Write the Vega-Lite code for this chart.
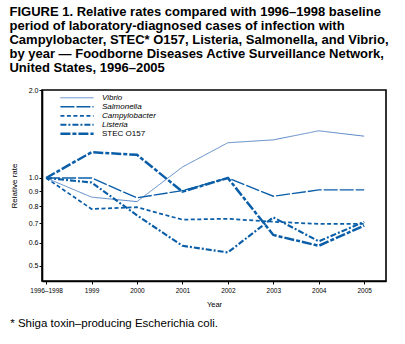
{
  "$schema": "https://vega.github.io/schema/vega-lite/v6.json",
  "padding": {"left": 9, "top": 6, "right": 4, "bottom": 4},
  "background": "white",
  "title": {
    "text": ["FIGURE 1. Relative rates compared with 1996–1998 baseline", "period of laboratory-diagnosed cases of infection with", "Campylobacter, STEC* O157, Listeria, Salmonella, and Vibrio,", "by year — Foodborne Diseases Active Surveillance Network,", "United States, 1996–2005"],
    "anchor": "start",
    "frame": "bounds",
    "font": "Liberation Sans",
    "fontSize": 13,
    "fontWeight": "bold",
    "lineHeight": 14,
    "color": "black",
    "offset": 10
  },
  "config": {
    "view": {"stroke": "black", "strokeWidth": 1.6},
    "font": "Liberation Sans"
  },
  "datasets": {
    "rates": [
      {"i": 0, "species": "Vibrio", "rate": 1.0},
      {"i": 1, "species": "Vibrio", "rate": 0.86},
      {"i": 2, "species": "Vibrio", "rate": 0.83},
      {"i": 3, "species": "Vibrio", "rate": 1.09},
      {"i": 4, "species": "Vibrio", "rate": 1.32},
      {"i": 5, "species": "Vibrio", "rate": 1.35},
      {"i": 6, "species": "Vibrio", "rate": 1.45},
      {"i": 7, "species": "Vibrio", "rate": 1.39},
      {"i": 0, "species": "Salmonella", "rate": 1.0},
      {"i": 1, "species": "Salmonella", "rate": 1.0},
      {"i": 2, "species": "Salmonella", "rate": 0.855},
      {"i": 3, "species": "Salmonella", "rate": 0.905},
      {"i": 4, "species": "Salmonella", "rate": 1.0},
      {"i": 5, "species": "Salmonella", "rate": 0.866},
      {"i": 6, "species": "Salmonella", "rate": 0.91},
      {"i": 7, "species": "Salmonella", "rate": 0.91},
      {"i": 0, "species": "Campylobacter", "rate": 1.0},
      {"i": 1, "species": "Campylobacter", "rate": 0.783},
      {"i": 2, "species": "Campylobacter", "rate": 0.794},
      {"i": 3, "species": "Campylobacter", "rate": 0.72},
      {"i": 4, "species": "Campylobacter", "rate": 0.725},
      {"i": 5, "species": "Campylobacter", "rate": 0.708},
      {"i": 6, "species": "Campylobacter", "rate": 0.696},
      {"i": 7, "species": "Campylobacter", "rate": 0.696},
      {"i": 0, "species": "Listeria", "rate": 1.0},
      {"i": 1, "species": "Listeria", "rate": 0.965},
      {"i": 2, "species": "Listeria", "rate": 0.745},
      {"i": 3, "species": "Listeria", "rate": 0.586},
      {"i": 4, "species": "Listeria", "rate": 0.556},
      {"i": 5, "species": "Listeria", "rate": 0.733},
      {"i": 6, "species": "Listeria", "rate": 0.607},
      {"i": 7, "species": "Listeria", "rate": 0.708},
      {"i": 0, "species": "STEC O157", "rate": 1.0},
      {"i": 1, "species": "STEC O157", "rate": 1.225},
      {"i": 2, "species": "STEC O157", "rate": 1.2},
      {"i": 3, "species": "STEC O157", "rate": 0.898},
      {"i": 4, "species": "STEC O157", "rate": 1.0},
      {"i": 5, "species": "STEC O157", "rate": 0.638},
      {"i": 6, "species": "STEC O157", "rate": 0.586},
      {"i": 7, "species": "STEC O157", "rate": 0.687}
    ]
  },
  "vconcat": [
    {
      "width": 344,
      "height": 191,
      "title": {
        "text": "* Shiga toxin–producing Escherichia coli.",
        "orient": "bottom",
        "anchor": "start",
        "frame": "bounds",
        "font": "Liberation Sans",
        "fontSize": 11.5,
        "fontWeight": "normal",
        "color": "black",
        "offset": 10
      },
      "layer": [
        {
          "mark": {"type": "rule", "color": "black", "strokeWidth": 1.2},
          "encoding": {
            "y": {"datum": 1, "type": "quantitative", "scale": {"type": "log", "domain": [0.444, 2.0], "nice": false}}
          }
        },
        {
          "data": {"name": "rates"},
          "mark": {"type": "line"},
          "encoding": {
            "x": {
              "field": "i", "type": "quantitative",
              "scale": {"domain": [-0.09, 7.48], "nice": false, "zero": false},
              "axis": {
                "title": "Year", "values": [0, 1, 2, 3, 4, 5, 6, 7],
                "labelExpr": "['1996–1998','1999','2000','2001','2002','2003','2004','2005'][datum.value]",
                "grid": false, "domainColor": "black", "domainWidth": 1.6, "tickColor": "black", "tickSize": 3,
                "labelFontSize": 6.5, "labelColor": "black", "labelPadding": 3,
                "titleFontSize": 7.5, "titleFontWeight": "normal", "titleColor": "black", "titlePadding": 7
              }
            },
            "y": {
              "field": "rate", "type": "quantitative",
              "scale": {"type": "log", "domain": [0.444, 2.0], "nice": false},
              "axis": {
                "title": "Relative rate", "values": [0.5, 0.6, 0.7, 0.8, 0.9, 1.0, 2.0], "format": ".1f",
                "grid": false, "domainColor": "black", "domainWidth": 1.6, "tickColor": "black", "tickSize": 3,
                "labelFontSize": 7, "labelColor": "black", "labelPadding": 1,
                "titleFontSize": 8, "titleFontWeight": "normal", "titleColor": "black", "titlePadding": 10
              }
            },
            "color": {
              "field": "species", "type": "nominal",
              "scale": {"domain": ["Vibrio", "Salmonella", "Campylobacter", "Listeria", "STEC O157"], "range": ["#5a88c6", "#0a5ea8", "#0a5ea8", "#0a5ea8", "#0a5ea8"]},
              "legend": {
                "title": null, "orient": "none", "legendX": 17, "legendY": 4,
                "symbolType": "stroke", "symbolSize": 1100, "symbolStrokeWidth": 1.5,
                "labelFontSize": 8, "labelColor": "black", "labelOffset": 7,
                "clipHeight": 7.5, "rowPadding": 0,
                "encode": {"labels": {"update": {"fontStyle": {"signal": "datum.value === 'STEC O157' ? 'normal' : 'italic'"}}}}
              }
            },
            "strokeDash": {
              "field": "species", "type": "nominal",
              "scale": {"domain": ["Vibrio", "Salmonella", "Campylobacter", "Listeria", "STEC O157"], "range": [[1, 0], [14, 2], [4, 2.5], [6, 2, 2, 2], [10, 2, 4, 2]]}
            },
            "strokeWidth": {
              "field": "species", "type": "nominal",
              "scale": {"domain": ["Vibrio", "Salmonella", "Campylobacter", "Listeria", "STEC O157"], "range": [1, 2.5, 2, 2, 2]}
            }
          }
        }
      ]
    }
  ]
}
